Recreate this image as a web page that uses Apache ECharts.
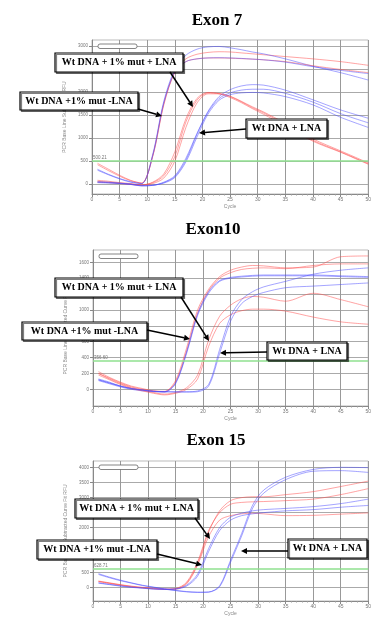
<!DOCTYPE html>
<html>
<head>
<meta charset="utf-8">
<script src="https://cdn.jsdelivr.net/npm/echarts@6/dist/echarts.min.js"></script>
<style>
  html, body { margin: 0; padding: 0; background: #fff; }
  #chart { width: 374px; height: 617px; }
</style>
</head>
<body>
<div id="chart"></div>
<script>
// shared sample cycles
const cycles = [1, 3, 5, 7, 9, 11, 13, 15, 17, 19, 21, 23, 25, 27, 29, 31, 35, 40, 45, 50]

// Exon 7
const ex7Red1 = [450, 320, 190, 80, 20, 620, 1750, 2450, 2720, 2820, 2860, 2875, 2870, 2850, 2830, 2810, 2770, 2720, 2660, 2580]
const ex7Blue1 = [300, 200, 110, 40, 10, 650, 1800, 2500, 2800, 2930, 2980, 2990, 2960, 2920, 2870, 2830, 2720, 2560, 2420, 2260]
const ex7Red2 = [420, 290, 170, 70, 20, 600, 1720, 2430, 2660, 2720, 2740, 2740, 2735, 2725, 2715, 2700, 2660, 2570, 2490, 2420]
const ex7Blue2 = [320, 210, 120, 50, 10, 620, 1760, 2440, 2660, 2720, 2740, 2745, 2740, 2730, 2715, 2700, 2650, 2550, 2470, 2400]
const ex7Red3 = [60, 40, 20, 0, -20, 30, 180, 600, 1350, 1820, 1980, 1970, 1910, 1800, 1680, 1570, 1320, 980, 720, 460]
const ex7Red4 = [40, 30, 10, -10, -30, 10, 130, 500, 1230, 1760, 1960, 1960, 1900, 1790, 1660, 1550, 1290, 950, 700, 440]
const ex7Red5 = [80, 60, 30, 10, -20, 40, 220, 700, 1420, 1860, 1990, 1960, 1880, 1770, 1640, 1520, 1260, 930, 690, 430]
const ex7Blue3 = [40, 30, 15, -5, -40, -30, 30, 160, 520, 1080, 1580, 1900, 2050, 2130, 2160, 2150, 2040, 1830, 1610, 1430]
const ex7Blue4 = [50, 40, 20, 0, -30, -25, 20, 140, 480, 1020, 1520, 1820, 1940, 1980, 1990, 1980, 1900, 1720, 1450, 1230]
const ex7Blue5 = [30, 20, 10, -10, -40, -30, 40, 180, 560, 1100, 1560, 1860, 1980, 2040, 2060, 2060, 1970, 1780, 1530, 1330]

// Exon 10
const ex10Red1 = [223, 150, 90, 40, 10, -20, -25, 110, 520, 1000, 1260, 1420, 1500, 1540, 1560, 1555, 1530, 1540, 1670, 1680]
const ex10Red2 = [200, 140, 80, 30, 0, -20, -30, 90, 480, 960, 1240, 1400, 1470, 1510, 1525, 1530, 1520, 1560, 1580, 1580]
const ex10Blue1 = [120, 80, 40, 10, -10, -25, -30, 80, 470, 950, 1230, 1370, 1410, 1425, 1435, 1440, 1440, 1440, 1430, 1420]
const ex10Blue2 = [110, 70, 30, 0, -20, -30, -35, 70, 450, 930, 1210, 1360, 1400, 1415, 1425, 1430, 1430, 1430, 1420, 1410]
const ex10Red3 = [200, 130, 70, 20, -10, -40, -60, -40, 20, 180, 620, 920, 1060, 1140, 1170, 1160, 1110, 1210, 1130, 1040]
const ex10Red4 = [180, 120, 60, 10, -20, -50, -70, -50, 0, 130, 540, 830, 940, 990, 1010, 1010, 985, 910, 850, 820]
const ex10Blue3 = [130, 90, 40, 10, -10, -25, -30, -30, -30, -20, 60, 500, 920, 1130, 1230, 1290, 1360, 1450, 1500, 1530]
const ex10Blue4 = [120, 80, 40, 10, -10, -25, -30, -35, -35, -30, 40, 450, 860, 1080, 1170, 1220, 1280, 1300, 1320, 1340]

// Exon 15
const ex15Red1 = [210, 150, 90, 40, 0, -30, -50, -40, 150, 800, 1850, 2560, 2900, 3000, 3030, 3030, 3100, 3200, 3370, 3550]
const ex15Red2 = [220, 160, 100, 50, 10, -20, -50, -30, 180, 860, 1900, 2500, 2780, 2840, 2860, 2870, 2900, 2950, 3100, 3300]
const ex15Red3 = [200, 140, 80, 30, -10, -40, -60, -50, 120, 750, 1700, 2250, 2400, 2460, 2480, 2460, 2400, 2410, 2450, 2490]
const ex15Blue1 = [160, 110, 60, 20, -10, -40, -50, -40, 80, 450, 1300, 2000, 2350, 2480, 2560, 2600, 2640, 2700, 2800, 2950]
const ex15Blue2 = [150, 100, 50, 10, -20, -50, -60, -50, 50, 380, 1200, 1900, 2250, 2400, 2460, 2500, 2560, 2600, 2680, 2740]
const ex15Blue3 = [466, 350, 250, 160, 80, 20, -40, -90, -130, -150, -145, 60, 920, 1800, 2750, 3250, 3680, 3940, 4010, 4000]
const ex15Blue4 = [440, 330, 230, 150, 70, 10, -50, -100, -140, -160, -150, 30, 850, 1720, 2650, 3150, 3600, 3880, 3900, 3840]

const yTicks7 = [0, 500, 1000, 1500, 2000, 2500, 3000]
const yTicks10 = [0, 200, 400, 600, 800, 1000, 1200, 1400, 1600]
const yTicks15 = [0, 500, 1000, 1500, 2000, 2500, 3000, 3500, 4000]
const thresholds = [500, 357, 629]
const thresholdLabels = ['500.21', '356.60', '628.71']

const RED = '#ff4a4a'
const BLUE = '#4a4aff'

const panels = [
  { title: 'Exon 7', tx: 217, ty: 21, grid: { left: 92, top: 40, width: 278, height: 154 }, min: -217, max: 3130, ticks: yTicks7,
    yName: 'PCR Base Line Subtracted RFU',
    curves: [[ex7Red1, RED], [ex7Blue1, BLUE], [ex7Red2, RED], [ex7Blue2, BLUE], [ex7Red3, RED], [ex7Red4, RED], [ex7Red5, RED], [ex7Blue3, BLUE], [ex7Blue4, BLUE], [ex7Blue5, BLUE]] },
  { title: 'Exon10', tx: 213, ty: 230, grid: { left: 93, top: 250, width: 279, height: 156 }, min: -210, max: 1755, ticks: yTicks10,
    yName: 'PCR Base Line Subtracted Curve Fit RFU',
    curves: [[ex10Red1, RED], [ex10Red2, RED], [ex10Blue1, BLUE], [ex10Blue2, BLUE], [ex10Red3, RED], [ex10Red4, RED], [ex10Blue3, BLUE], [ex10Blue4, BLUE]] },
  { title: 'Exon 15', tx: 216, ty: 441, grid: { left: 93, top: 461, width: 279, height: 154 }, min: -445, max: 4221, ticks: yTicks15,
    yName: 'PCR Base Line Subtracted Curve Fit RFU',
    curves: [[ex15Red1, RED], [ex15Red2, RED], [ex15Red3, RED], [ex15Blue1, BLUE], [ex15Blue2, BLUE], [ex15Blue3, BLUE], [ex15Blue4, BLUE]] },
]

// annotation boxes [x, y, w, h, text] and arrows [x1, y1, x2, y2]
const boxes = [
  [55, 53, 128, 19, 'Wt DNA + 1% mut + LNA'], [20, 92, 118, 18, 'Wt DNA +1% mut -LNA'], [246, 119, 81, 19, 'Wt DNA + LNA'],
  [55, 278, 128, 19, 'Wt DNA + 1% mut + LNA'], [22, 322, 125, 18, 'Wt DNA +1% mut -LNA'], [267, 342, 80, 18, 'Wt DNA + LNA'],
  [75, 499, 123, 19, 'Wt DNA + 1% mut + LNA'], [37, 540, 120, 19, 'Wt DNA +1% mut -LNA'], [288, 539, 79, 19, 'Wt DNA + LNA'],
]
const arrows = [
  [170, 72, 193, 107], [138, 109, 162, 116], [246, 129, 199, 133],
  [181, 297, 209, 341], [147, 330, 190, 339], [267, 352, 220, 353],
  [195, 518, 210, 539], [157, 554, 202, 565], [288, 551, 241, 551],
]

function arrow(x1, y1, x2, y2) {
  const a = Math.atan2(y2 - y1, x2 - x1)
  const L = 6, W = 3
  const bx = x2 - L * Math.cos(a), by = y2 - L * Math.sin(a)
  return [
    { type: 'line', z: 100, shape: { x1, y1, x2: bx, y2: by }, style: { stroke: '#000', lineWidth: 1.5 } },
    { type: 'polygon', z: 100, shape: { points: [[x2, y2], [bx + W * Math.sin(a), by - W * Math.cos(a)], [bx - W * Math.sin(a), by + W * Math.cos(a)]] }, style: { fill: '#000' } },
  ]
}

function box(x, y, w, h, text) {
  return [
    { type: 'rect', z: 100, shape: { x, y, width: w, height: h },
      style: { fill: '#fff', stroke: '#000', lineWidth: 1.2, shadowColor: 'rgba(0,0,0,0.5)', shadowOffsetX: 1.5, shadowOffsetY: 1.5 } },
    { type: 'text', z: 101, x: x + w / 2, y: y + h / 2,
      style: { text, font: 'bold 10px "Liberation Serif"', fill: '#000', align: 'center', verticalAlign: 'middle' } },
  ]
}

const grids = [], xAxes = [], yAxes = [], series = [], graphics = []

panels.forEach((p, k) => {
  grids.push({ ...p.grid, show: true, borderColor: '#bbb', borderWidth: 1, backgroundColor: '#fff' })
  xAxes.push({
    type: 'value', gridIndex: k, min: 0, max: 50, interval: 5,
    name: 'Cycle', nameLocation: 'middle', nameGap: 10, nameTextStyle: { fontSize: 5, color: '#888' },
    axisLine: { onZero: false, lineStyle: { color: '#888' } },
    axisTick: { length: 3, lineStyle: { color: '#888' } },
    minorTick: { show: true, splitNumber: 5, length: 1.5, lineStyle: { color: '#999' } },
    axisLabel: { fontSize: 5, color: '#777', margin: 3 },
    splitLine: { lineStyle: { color: '#999', width: 1 } },
  })
  yAxes.push({
    type: 'value', gridIndex: k, min: p.min, max: p.max,
    name: p.yName, nameLocation: 'middle', nameGap: 15, nameTextStyle: { fontSize: 5, color: '#888' },
    axisLine: { lineStyle: { color: '#888' } },
    axisTick: { customValues: p.ticks, length: 3, lineStyle: { color: '#888' } },
    axisLabel: { customValues: p.ticks, fontSize: 4.5, color: '#777', margin: 4, formatter: v => String(v) },
    splitLine: { lineStyle: { color: '#aaa', width: 1 } },
  })
  p.curves.forEach(([vals, color], i) => {
    const s = {
      type: 'line', xAxisIndex: k, yAxisIndex: k, smooth: 0.3, symbol: 'none', silent: true,
      data: cycles.map((c, j) => [c, vals[j]]),
      lineStyle: { color, width: 1, opacity: 0.5 },
    }
    if (i === 0) {
      s.markLine = {
        silent: true, symbol: 'none',
        lineStyle: { color: '#8fe08f', width: 1.5, type: 'solid' },
        label: { position: 'insideStartTop', formatter: thresholdLabels[k], fontSize: 4.5, color: '#777', distance: 1 },
        data: [{ yAxis: thresholds[k] }],
      }
    }
    series.push(s)
  })
  graphics.push({ type: 'text', x: p.tx, y: p.ty,
    style: { text: p.title, font: 'bold 17px "Liberation Serif"', fill: '#000', align: 'center', verticalAlign: 'middle' } })
  // small empty legend box in the plot corner
  graphics.push({ type: 'rect', z: 50, shape: { x: p.grid.left + 6, y: p.grid.top + 4, width: 39, height: 4.5, r: 2 },
    style: { fill: '#fff', stroke: '#666', lineWidth: 0.8 } })
})

boxes.forEach(b => graphics.push(...box(...b)))
arrows.forEach(a => graphics.push(...arrow(...a)))

const chart = echarts.init(document.getElementById('chart'), null, { renderer: 'canvas' })
chart.setOption({
  animation: false,
  backgroundColor: '#fff',
  grid: grids,
  xAxis: xAxes,
  yAxis: yAxes,
  series,
  graphic: graphics,
})
</script>
</body>
</html>
